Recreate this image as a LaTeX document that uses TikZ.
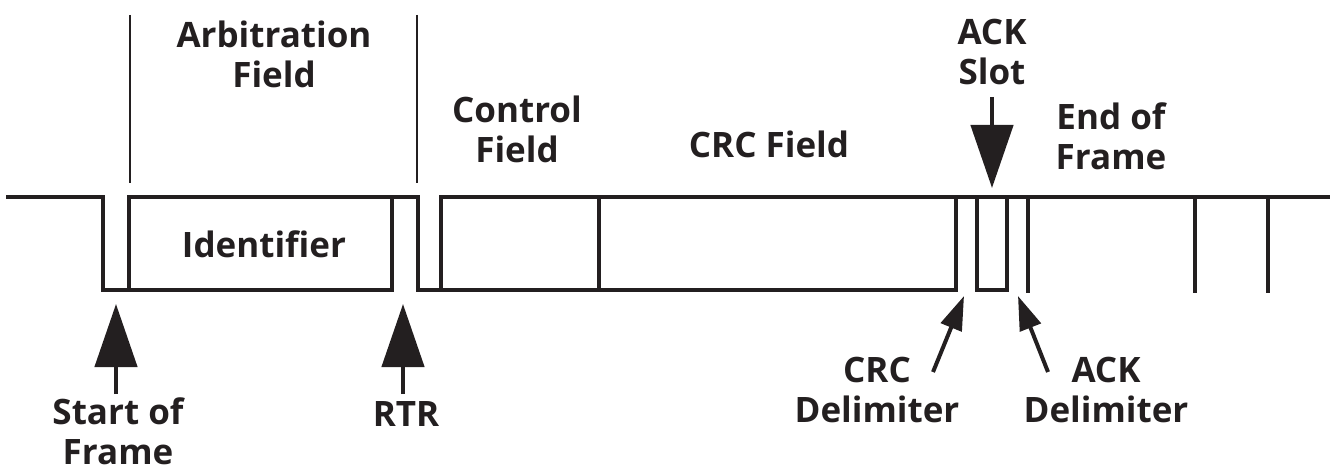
\documentclass[tikz,border=0pt]{standalone}
\usepackage{fontspec}
\setmainfont{Open Sans}
\usetikzlibrary{arrows.meta}
\definecolor{ink}{RGB}{35,31,32}
\tikzset{
  sig/.style={line width=3.4pt, draw=ink, line join=miter, line cap=rect},
  sep/.style={line width=2.8pt, draw=ink},
  lbl/.style={font=\fontsize{35}{40}\selectfont\bfseries, align=center, text=ink, inner sep=0pt, anchor=base},
  bigarrow/.style={line width=4.5pt, draw=ink, -{Triangle[length=63pt,width=42pt]}},
  smallarrow/.style={line width=4pt, draw=ink, -{Triangle[length=34pt,width=22pt]}}
}
\begin{document}
\begin{tikzpicture}[x=1pt,y=-1pt]
\useasboundingbox (0,0) rectangle (1330,470);
% signal waveform
\draw[sig] (8,197) -- (103,197) -- (103,290) -- (392,290);
\draw[sig] (129,290) -- (129,197) -- (418,197) -- (418,290) -- (956,290) -- (956,197);
\draw[sig] (392,290) -- (392,197);
\draw[sig] (441,290) -- (441,197) -- (1330,197);
\draw[sig] (599,197) -- (599,290);
\draw[sig] (977,197) -- (977,290) -- (1007,290) -- (1007,197);
\draw[sig] (1028,197) -- (1028,291);
\draw[sig] (1195,197) -- (1195,291);
\draw[sig] (1268,197) -- (1268,291);
% arbitration field separators
\draw[sep] (130,15) -- (130,183);
\draw[sep] (417,15) -- (417,183);
% labels (base anchor = baseline of last line)
\node[lbl] (arb) at (274,88) {Arbitration\\Field};
\node[lbl] (ctl) at (517,163) {Control\\Field};
\node[lbl] (crc) at (769,158) {CRC Field};
\node[lbl] (ackslot) at (992,85) {ACK\\Slot};
\node[lbl] (eof) at (1111,170) {End of\\Frame};
\node[lbl] (ident) at (264,258) {Identifier};
\node[lbl] (sof) at (118,464) {Start of\\Frame};
\node[lbl] (rtr) at (406,426) {RTR};
\node[lbl] (crcdel) at (877,422) {CRC\\Delimiter};
\node[lbl] (ackdel) at (1106,422) {ACK\\Delimiter};
% arrow endpoints
\coordinate (sofA) at (116,394);  \coordinate (sofB) at (116,304);
\coordinate (rtrA) at (403,394);  \coordinate (rtrB) at (403,304);
\coordinate (ackA) at (992,97);   \coordinate (ackB) at (992,188);
\coordinate (crcA) at (933,372);  \coordinate (crcB) at (964,296);
\coordinate (adA) at (1048,372);  \coordinate (adB) at (1018,296);
\draw[bigarrow] (sofA) -- (sofB);
\draw[bigarrow] (rtrA) -- (rtrB);
\draw[bigarrow] (ackA) -- (ackB);
\draw[smallarrow] (crcA) -- (crcB);
\draw[smallarrow] (adA) -- (adB);
\end{tikzpicture}
\end{document}
